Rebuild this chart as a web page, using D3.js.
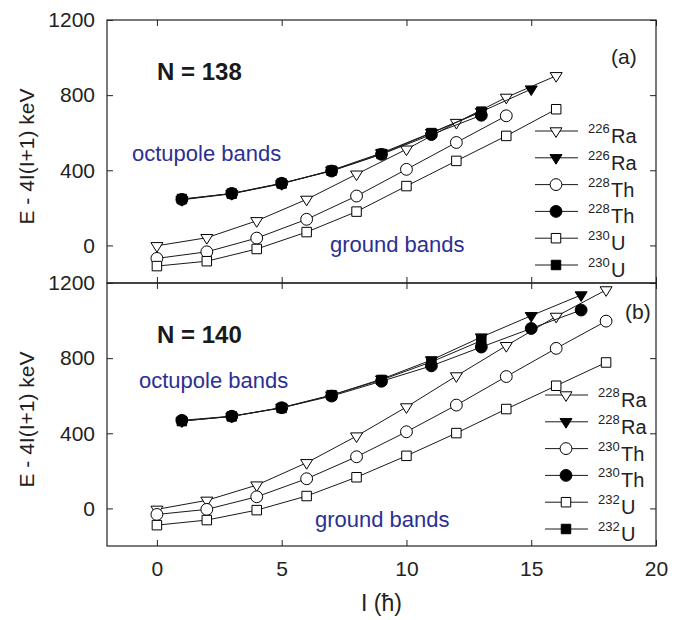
<!DOCTYPE html>
<html>
<head>
<meta charset="utf-8">
<script src="https://cdn.jsdelivr.net/npm/d3@7"></script>
<style>
  body { margin: 0; background: #fff; }
  text { font-family: Arial, "Liberation Sans", sans-serif; }
</style>
</head>
<body>
<svg id="chart"></svg>
<script>
// spins (hbar)
const evenTo14 = [0, 2, 4, 6, 8, 10, 12, 14];
const evenTo16 = [0, 2, 4, 6, 8, 10, 12, 14, 16];
const evenTo18 = [0, 2, 4, 6, 8, 10, 12, 14, 16, 18];
const oddTo13 = [1, 3, 5, 7, 9, 11, 13];
const oddTo15 = [1, 3, 5, 7, 9, 11, 13, 15];
const oddTo17 = [1, 3, 5, 7, 9, 11, 13, 15, 17];

// (a) N = 138, E - 4I(I+1) in keV
const ra226Ground = [-2, 41, 131, 245, 379, 512, 654, 788, 903];
const ra226Oct = [243, 275, 328, 400, 492, 600, 712, 832];
const th228Ground = [-69, -34, 39, 139, 263, 405, 548, 690];
const th228Oct = [245, 277, 331, 396, 485, 590, 693];
const u230Ground = [-110, -84, -19, 71, 180, 316, 450, 583, 725];
const u230Oct = [247, 276, 330, 398, 487, 598, 712];

// (b) N = 140
const ra228Ground = [-5, 43, 124, 243, 385, 540, 705, 866, 1022, 1163];
const ra228Oct = [465, 490, 537, 603, 688, 790, 912, 1026, 1136];
const th230Ground = [-32, -5, 62, 158, 275, 408, 550, 702, 852, 997];
const th230Oct = [469, 491, 536, 598, 677, 759, 859, 958, 1056];
const u232Ground = [-89, -62, -9, 66, 166, 280, 401, 529, 653, 777];
const u232Oct = [465, 490, 535, 603, 684, 780, 893];

const massA = ['226', '226', '228', '228', '230', '230'];
const massB = ['228', '228', '230', '230', '232', '232'];
const elements = ['Ra', 'Ra', 'Th', 'Th', 'U', 'U'];

const xTicks = [0, 5, 10, 15, 20];
const yTicks = [0, 400, 800, 1200];

const width = 680, height = 620;
const svg = d3.select('#chart').attr('width', width).attr('height', height);

const x = d3.scaleLinear().domain([-2, 20]).range([107, 656]);
const blue = '#2b2f93';

// flat down-pointing triangle
const triDown = {
  draw(ctx, size) {
    const w = size, h = size * 0.8;
    ctx.moveTo(-w / 2, -h / 3);
    ctx.lineTo(w / 2, -h / 3);
    ctx.lineTo(0, 2 * h / 3);
    ctx.closePath();
  }
};
const shapes = [
  d3.symbol(triDown, 12), d3.symbol(triDown, 12),
  d3.symbol(d3.symbolCircle, 110), d3.symbol(d3.symbolCircle, 110),
  d3.symbol(d3.symbolSquare, 90), d3.symbol(d3.symbolSquare, 90)
];
const fills = ['#fff', '#000', '#fff', '#000', '#fff', '#000'];

function drawPanel(p) {
  const y = d3.scaleLinear().domain([-200, 1200]).range([p.bottom, p.top]);
  const g = svg.append('g');
  const noDomain = s => s.select('.domain').remove();

  g.append('g').attr('transform', `translate(0,${p.bottom})`)
    .call(d3.axisBottom(x).tickValues(xTicks).tickSize(-6).tickPadding(15)
      .tickFormat(p.xLabels ? d3.format('d') : ''))
    .call(noDomain);
  g.append('g').attr('transform', `translate(0,${p.top})`)
    .call(d3.axisTop(x).tickValues(xTicks).tickSize(-6).tickFormat(''))
    .call(noDomain);
  g.append('g').attr('transform', `translate(${x.range()[0]},0)`)
    .call(d3.axisLeft(y).tickValues(yTicks).tickSize(-6).tickPadding(12).tickFormat(d3.format('d')))
    .call(noDomain);
  g.append('g').attr('transform', `translate(${x.range()[1]},0)`)
    .call(d3.axisRight(y).tickValues(yTicks).tickSize(-6).tickFormat(''))
    .call(noDomain);
  g.selectAll('.tick line').attr('stroke', '#222');
  g.selectAll('.tick text').attr('font-size', 21).attr('fill', '#222')
    .style('font-family', 'Arial, "Liberation Sans", sans-serif');

  g.append('rect')
    .attr('x', x.range()[0]).attr('y', p.top)
    .attr('width', x.range()[1] - x.range()[0]).attr('height', p.bottom - p.top)
    .attr('fill', 'none').attr('stroke', '#222').attr('stroke-width', 1.2);

  const line = d3.line().x(d => x(d[0])).y(d => y(d[1]));
  p.series.forEach((s, i) => {
    const pts = s.spins.map((I, k) => [I, s.values[k]]);
    g.append('path').datum(pts)
      .attr('d', line).attr('fill', 'none').attr('stroke', '#1a1a1a').attr('stroke-width', 1);
    g.selectAll(null).data(pts).enter().append('path')
      .attr('transform', d => `translate(${x(d[0])},${y(d[1])})`)
      .attr('d', shapes[i])
      .attr('fill', fills[i]).attr('stroke', '#000').attr('stroke-width', 1);
  });

  // legend
  p.mass.forEach((m, i) => {
    const ly = p.legendTop + i * 26.8;
    const lg = g.append('g');
    lg.append('line').attr('x1', p.legendX).attr('x2', p.legendX + 43)
      .attr('y1', ly).attr('y2', ly).attr('stroke', '#1a1a1a').attr('stroke-width', 1);
    lg.append('path').attr('transform', `translate(${p.legendX + 21},${ly})`)
      .attr('d', shapes[i]).attr('fill', fills[i]).attr('stroke', '#000');
    lg.append('text').attr('x', p.legendX + 53).attr('y', ly + 2)
      .attr('font-size', 13).attr('fill', '#222').text(m);
    lg.append('text').attr('x', p.legendX + 76).attr('y', ly + 12)
      .attr('font-size', 20).attr('fill', '#222').text(elements[i]);
  });

  g.append('text').attr('x', 157).attr('y', p.top + 60)
    .attr('font-size', 24).attr('font-weight', 'bold').attr('fill', '#1a1a1a').text(p.title);
  g.append('text').attr('x', p.tagX).attr('y', p.tagY)
    .attr('font-size', 21).attr('fill', '#222').text(p.tag);
  g.append('text').attr('x', p.octX).attr('y', p.octY)
    .attr('font-size', 22).attr('fill', blue).text('octupole bands');
  g.append('text').attr('x', p.gndX).attr('y', p.gndY)
    .attr('font-size', 22).attr('fill', blue).text('ground bands');

  g.append('text')
    .attr('transform', `translate(34,${(p.top + p.bottom) / 2 + 5}) rotate(-90)`)
    .attr('text-anchor', 'middle').attr('font-size', 21).attr('fill', '#222')
    .text('E - 4I(I+1) keV');
}

drawPanel({
  top: 20, bottom: 283, xLabels: false,
  title: 'N = 138', tag: '(a)', tagX: 611, tagY: 64,
  octX: 132, octY: 161, gndX: 330, gndY: 252,
  legendX: 535, legendTop: 131, mass: massA,
  series: [
    { spins: evenTo16, values: ra226Ground },
    { spins: oddTo15, values: ra226Oct },
    { spins: evenTo14, values: th228Ground },
    { spins: oddTo13, values: th228Oct },
    { spins: evenTo16, values: u230Ground },
    { spins: oddTo13, values: u230Oct }
  ]
});

drawPanel({
  top: 283, bottom: 546, xLabels: true,
  title: 'N = 140', tag: '(b)', tagX: 625, tagY: 319,
  octX: 139, octY: 388, gndX: 315, gndY: 527,
  legendX: 545, legendTop: 395, mass: massB,
  series: [
    { spins: evenTo18, values: ra228Ground },
    { spins: oddTo17, values: ra228Oct },
    { spins: evenTo18, values: th230Ground },
    { spins: oddTo17, values: th230Oct },
    { spins: evenTo18, values: u232Ground },
    { spins: oddTo13, values: u232Oct }
  ]
});

svg.append('text')
  .attr('x', (x.range()[0] + x.range()[1]) / 2).attr('y', 611)
  .attr('text-anchor', 'middle').attr('font-size', 23).attr('fill', '#222')
  .text('I (ħ)');
</script>
</body>
</html>
